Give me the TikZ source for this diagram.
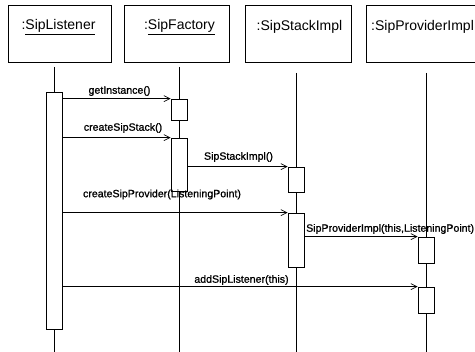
\documentclass[tikz,border=0pt]{standalone}
\usepackage{fontspec}
\setmainfont{Liberation Sans}
\newfontfamily\msgfont[FakeBold=1]{Liberation Sans}
\usetikzlibrary{arrows.meta}
\tikzset{
  objbox/.style={draw, line width=0.7pt, inner sep=0pt},
  objtext/.style={inner sep=0pt, font=\fontsize{14}{16}\selectfont},
  act/.style={draw, fill=white, line width=0.7pt, minimum width=16pt, inner sep=0pt},
  lifeline/.style={line width=0.7pt},
  msg/.style={line width=0.7pt, -{Straight Barb[length=6pt,width=6pt]}},
  msgtext/.style={inner sep=0pt, font=\msgfont\fontsize{10.6}{12}\selectfont}
}
\begin{document}
\begin{tikzpicture}[x=1pt,y=-1pt]
\useasboundingbox (0,0) rectangle (475,352);
\clip (0,0) rectangle (475,352);
% object boxes
\node[objbox, minimum width=103pt, minimum height=57pt] (b1) at (59.5,33.5) {};
\node[objbox, minimum width=105pt, minimum height=57pt] (b2) at (176.5,33.5) {};
\node[objbox, minimum width=106pt, minimum height=57pt] (b3) at (298,33.5) {};
\node[objbox, minimum width=120pt, minimum height=57pt] (b4) at (426,33.5) {};
\node[objtext] (t1) at (58.5,27) {:\underline{SipListener}};
\node[objtext] (t2) at (179.5,27) {:\underline{SipFactory}};
\node[objtext] (t3) at (299.5,27) {:SipStackImpl};
\node[objtext, anchor=west] (t4) at (371,27) {:SipProviderImpl};
% lifelines
\coordinate (l1s) at (54,67);  \coordinate (l1e) at (54,352);
\coordinate (l2s) at (179,67); \coordinate (l2e) at (179,352);
\coordinate (l3s) at (296,73); \coordinate (l3e) at (296,352);
\coordinate (l4s) at (426,73); \coordinate (l4e) at (426,352);
\draw[lifeline] (l1s) -- (l1e);
\draw[lifeline] (l2s) -- (l2e);
\draw[lifeline] (l3s) -- (l3e);
\draw[lifeline] (l4s) -- (l4e);
% activations
\node[act, minimum height=237pt] (a1) at (54,210.5) {};
\node[act, minimum height=21pt] (f1) at (179,109.5) {};
\node[act, minimum height=53pt] (f2) at (179,164.5) {};
\node[act, minimum height=25pt] (s1) at (296,179.5) {};
\node[act, minimum height=54pt] (s2) at (296,240) {};
\node[act, minimum height=26pt] (p1) at (426,250) {};
\node[act, minimum height=26pt] (p2) at (426,300) {};
% messages
\draw[msg] (f1.north west -| a1.east) -- (f1.north west);
\draw[msg] (f2.north west -| a1.east) -- (f2.north west);
\draw[msg] (s1.north west -| f2.east) -- (s1.north west);
\draw[msg] (s2.north west -| a1.east) -- (s2.north west);
\draw[msg] (p1.north west -| s2.east) -- (p1.north west);
\draw[msg] (p2.north west -| a1.east) -- (p2.north west);
% message labels
\node[msgtext] (m1) at (119.5,91) {getInstance()};
\node[msgtext] (m2) at (123,128) {createSipStack()};
\node[msgtext] (m3) at (238.5,157) {SipStackImpl()};
\node[msgtext] (m4) at (162,194.5) {createSipProvider(ListeningPoint)};
\node[msgtext, anchor=west] (m5) at (306,229) {SipProviderImpl(this,ListeningPoint)};
\node[msgtext] (m6) at (241.5,280) {addSipListener(this)};
\end{tikzpicture}
\end{document}
